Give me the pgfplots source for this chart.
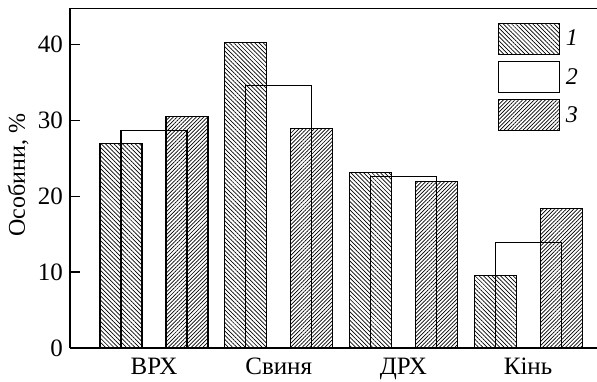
\documentclass[border=0pt]{standalone}
\usepackage{fontspec}
\setmainfont{Liberation Serif}
\usepackage{pgfplots}
\pgfplotsset{compat=1.18}
\usetikzlibrary{patterns.meta}

% Share of individuals (%) by host species, three groups
\pgfplotstableread{
x  g1    g2    g3
0  26.9  28.6  30.5
1  40.3  34.6  28.9
2  23.1  22.6  21.9
3  9.5   13.95 18.4
}\datatable

\newcommand{\chartfont}{\fontsize{24}{28}\selectfont}
\newcommand{\tickfont}{\fontsize{25}{29}\selectfont}

\begin{document}
\begin{tikzpicture}
\begin{axis}[
  at={(0,0)}, anchor=south west,
  scale only axis, width=527pt, height=339.7pt,
  xmin=-0.674, xmax=3.553, ymin=0, ymax=44.75,
  axis x line*=bottom, axis y line*=left,
  axis line style={line width=1.2pt},
  ybar, bar width=42pt,
  xtick={0,1,2,3}, xticklabels={ВРХ,Свиня,ДРХ,Кінь},
  xtick style={draw=none},
  xticklabel style={anchor=base, yshift=-26.5pt},
  ytick={0,10,20,30,40},
  tick align=inside, major tick length=10pt,
  ytick style={line width=1.2pt, black},
  yticklabel style={xshift=-3.5pt},
  /pgf/number format/assume math mode=true,
  tick label style={font=\tickfont},
  ylabel={Особини, \%},
  every axis y label/.style={at={(axis description cs:-0.0854,0.509)},
    anchor=base, rotate=90, font=\chartfont},
  legend image code/.code={\draw[#1] (0pt,-15.5pt) rectangle (61pt,15.5pt);},
  legend cell align=left,
  legend style={draw=none, fill=none, at={(rel axis cs:0.8116,1)}, anchor=north west,
    yshift=-14.4pt, inner sep=0pt, outer sep=0pt, row sep=6pt, column sep=6pt,
    nodes={inner sep=0pt, font=\chartfont}},
]
\addplot[draw=black, line width=1.1pt, bar shift=-33pt,
  pattern={Lines[angle=-45, distance=3pt, line width=0.7pt]}]
  table[x=x, y=g1] {\datatable};
\addlegendentry{\textit{1}}
\addplot[draw=black, line width=1.1pt, bar shift=0pt, bar width=66pt, fill=none]
  table[x=x, y=g2] {\datatable};
\addlegendentry{\textit{2}}
\addplot[draw=black, line width=1.1pt, bar shift=33pt,
  pattern={Lines[angle=45, distance=2.7pt, line width=0.7pt]}]
  table[x=x, y=g3] {\datatable};
\addlegendentry{\textit{3}}
\draw[line width=1.2pt] (rel axis cs:0,1) -- (rel axis cs:1,1);
\end{axis}
\pgfresetboundingbox
\path (-70pt,-34pt) rectangle (527pt,348pt);
\end{tikzpicture}
\end{document}
